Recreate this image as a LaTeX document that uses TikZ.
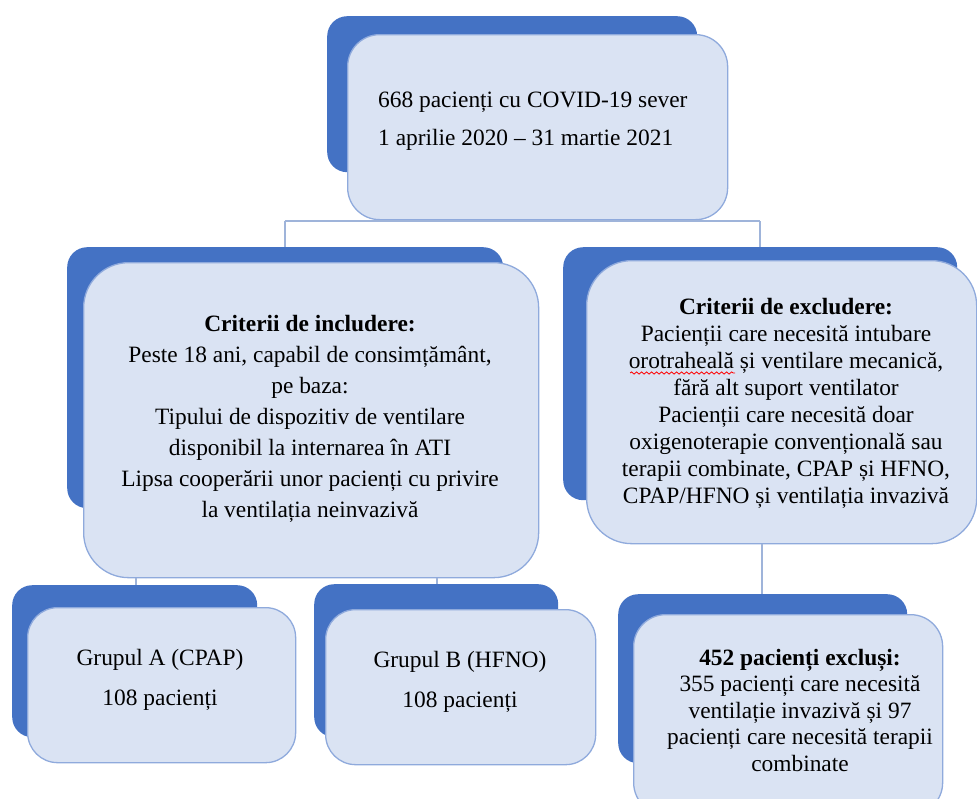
\documentclass[tikz,border=0pt]{standalone}
\usepackage{fontspec}
\setmainfont{Liberation Serif}
\usetikzlibrary{decorations.pathmorphing}
\definecolor{shadowblue}{HTML}{4472C4}
\definecolor{frontfill}{HTML}{DAE3F3}
\definecolor{frontline}{HTML}{8FAADC}
\definecolor{connblue}{HTML}{9FB4DA}
\tikzset{
 shadowbox/.style={fill=shadowblue, draw=none, rounded corners=20pt, inner sep=0pt, anchor=north west},
 frontbox/.style={fill=frontfill, draw=frontline, line width=1.3pt, rounded corners=#1, inner sep=0pt, anchor=north west},
 frontbox/.default=35pt,
 conn/.style={draw=connblue, line width=2pt},
 txt/.style={align=center, inner sep=0pt, font=\fontsize{23.4}{#1}\selectfont},
 txt/.default=27,
}
\begin{document}
\begin{tikzpicture}[x=1pt, y=-1pt]
\useasboundingbox (0,0) rectangle (977,798);
\clip (0,0) rectangle (977,798);
\coordinate (jL) at (285,221);
\coordinate (jR) at (760,221);
\coordinate (jM) at (511,221);
\coordinate (gAx) at (136,0);
\coordinate (gBx) at (437,0);
\coordinate (exx) at (762,0);

% top box
\node[shadowbox, minimum width=370pt, minimum height=156pt] (topS) at (327,16) {};
\node[frontbox=32pt, minimum width=380pt, minimum height=185pt] (topF) at (347,34) {};
\node[txt=38, align=left, anchor=west] (topT) at (378,121) {668 pacienți cu COVID-19 sever\\1 aprilie 2020 – 31 martie 2021};

% inclusion
\node[shadowbox, minimum width=436pt, minimum height=261pt] (incS) at (67,247) {};
\node[frontbox=45pt, minimum width=455pt, minimum height=315pt] (incF) at (83,262) {};
\node[txt=31] (incT) at (310,419) {\textbf{Criterii de includere:}\\Peste 18 ani, capabil de consimțământ,\\pe baza:\\Tipului de dispozitiv de ventilare\\disponibil la internarea în ATI\\Lipsa cooperării unor pacienți cu privire\\la ventilația neinvazivă};

% exclusion
\node[shadowbox, minimum width=394pt, minimum height=253pt] (excS) at (563,247) {};
\node[frontbox=45pt, minimum width=390pt, minimum height=283pt] (excF) at (586,260) {};
\node[txt=27] (excT) at (786,403) {\textbf{Criterii de excludere:}\\Pacienții care necesită intubare\\orotraheală și ventilare mecanică,\\fără alt suport ventilator\\Pacienții care necesită doar\\oxigenoterapie convențională sau\\terapii combinate, CPAP și HFNO,\\CPAP/HFNO și ventilația invazivă};
\draw[red, line width=0.8pt, decorate, decoration={snake, amplitude=1.1pt, segment length=5pt}] (630,373) -- (735,373);

% group A
\node[shadowbox, minimum width=245pt, minimum height=152pt] (gAS) at (12,585) {};
\node[frontbox=30pt, minimum width=268pt, minimum height=155pt] (gAF) at (27,607) {};
\node[txt=40] (gAT) at (160,680) {Grupul A (CPAP)\\108 pacienți};

% group B
\node[shadowbox, minimum width=244pt, minimum height=153pt] (gBS) at (314,584) {};
\node[frontbox=30pt, minimum width=270pt, minimum height=155pt] (gBF) at (325,609) {};
\node[txt=40] (gBT) at (460,682) {Grupul B (HFNO)\\108 pacienți};

% excluded patients
\node[shadowbox, minimum width=289pt, minimum height=169pt] (exS) at (618,594) {};
\node[frontbox=32pt, minimum width=309pt, minimum height=200pt] (exF) at (633,614) {};
\node[txt=26.5] (exT) at (800,710) {\textbf{452 pacienți excluși:}\\355 pacienți care necesită\\ventilație invazivă și 97\\pacienți care necesită terapii\\combinate};

% connectors
\draw[conn] (jL) -- (jR);
\draw[conn] (topF.south -| jM) -- (jM);
\draw[conn] (jL) -- (jL |- incS.north);
\draw[conn] (jR) -- (jR |- excS.north);
\draw[conn] (incF.south -| gAx) -- (gAS.north -| gAx);
\draw[conn] (incF.south -| gBx) -- (gBS.north -| gBx);
\draw[conn] (excF.south -| exx) -- (exS.north -| exx);
\end{tikzpicture}
\end{document}
